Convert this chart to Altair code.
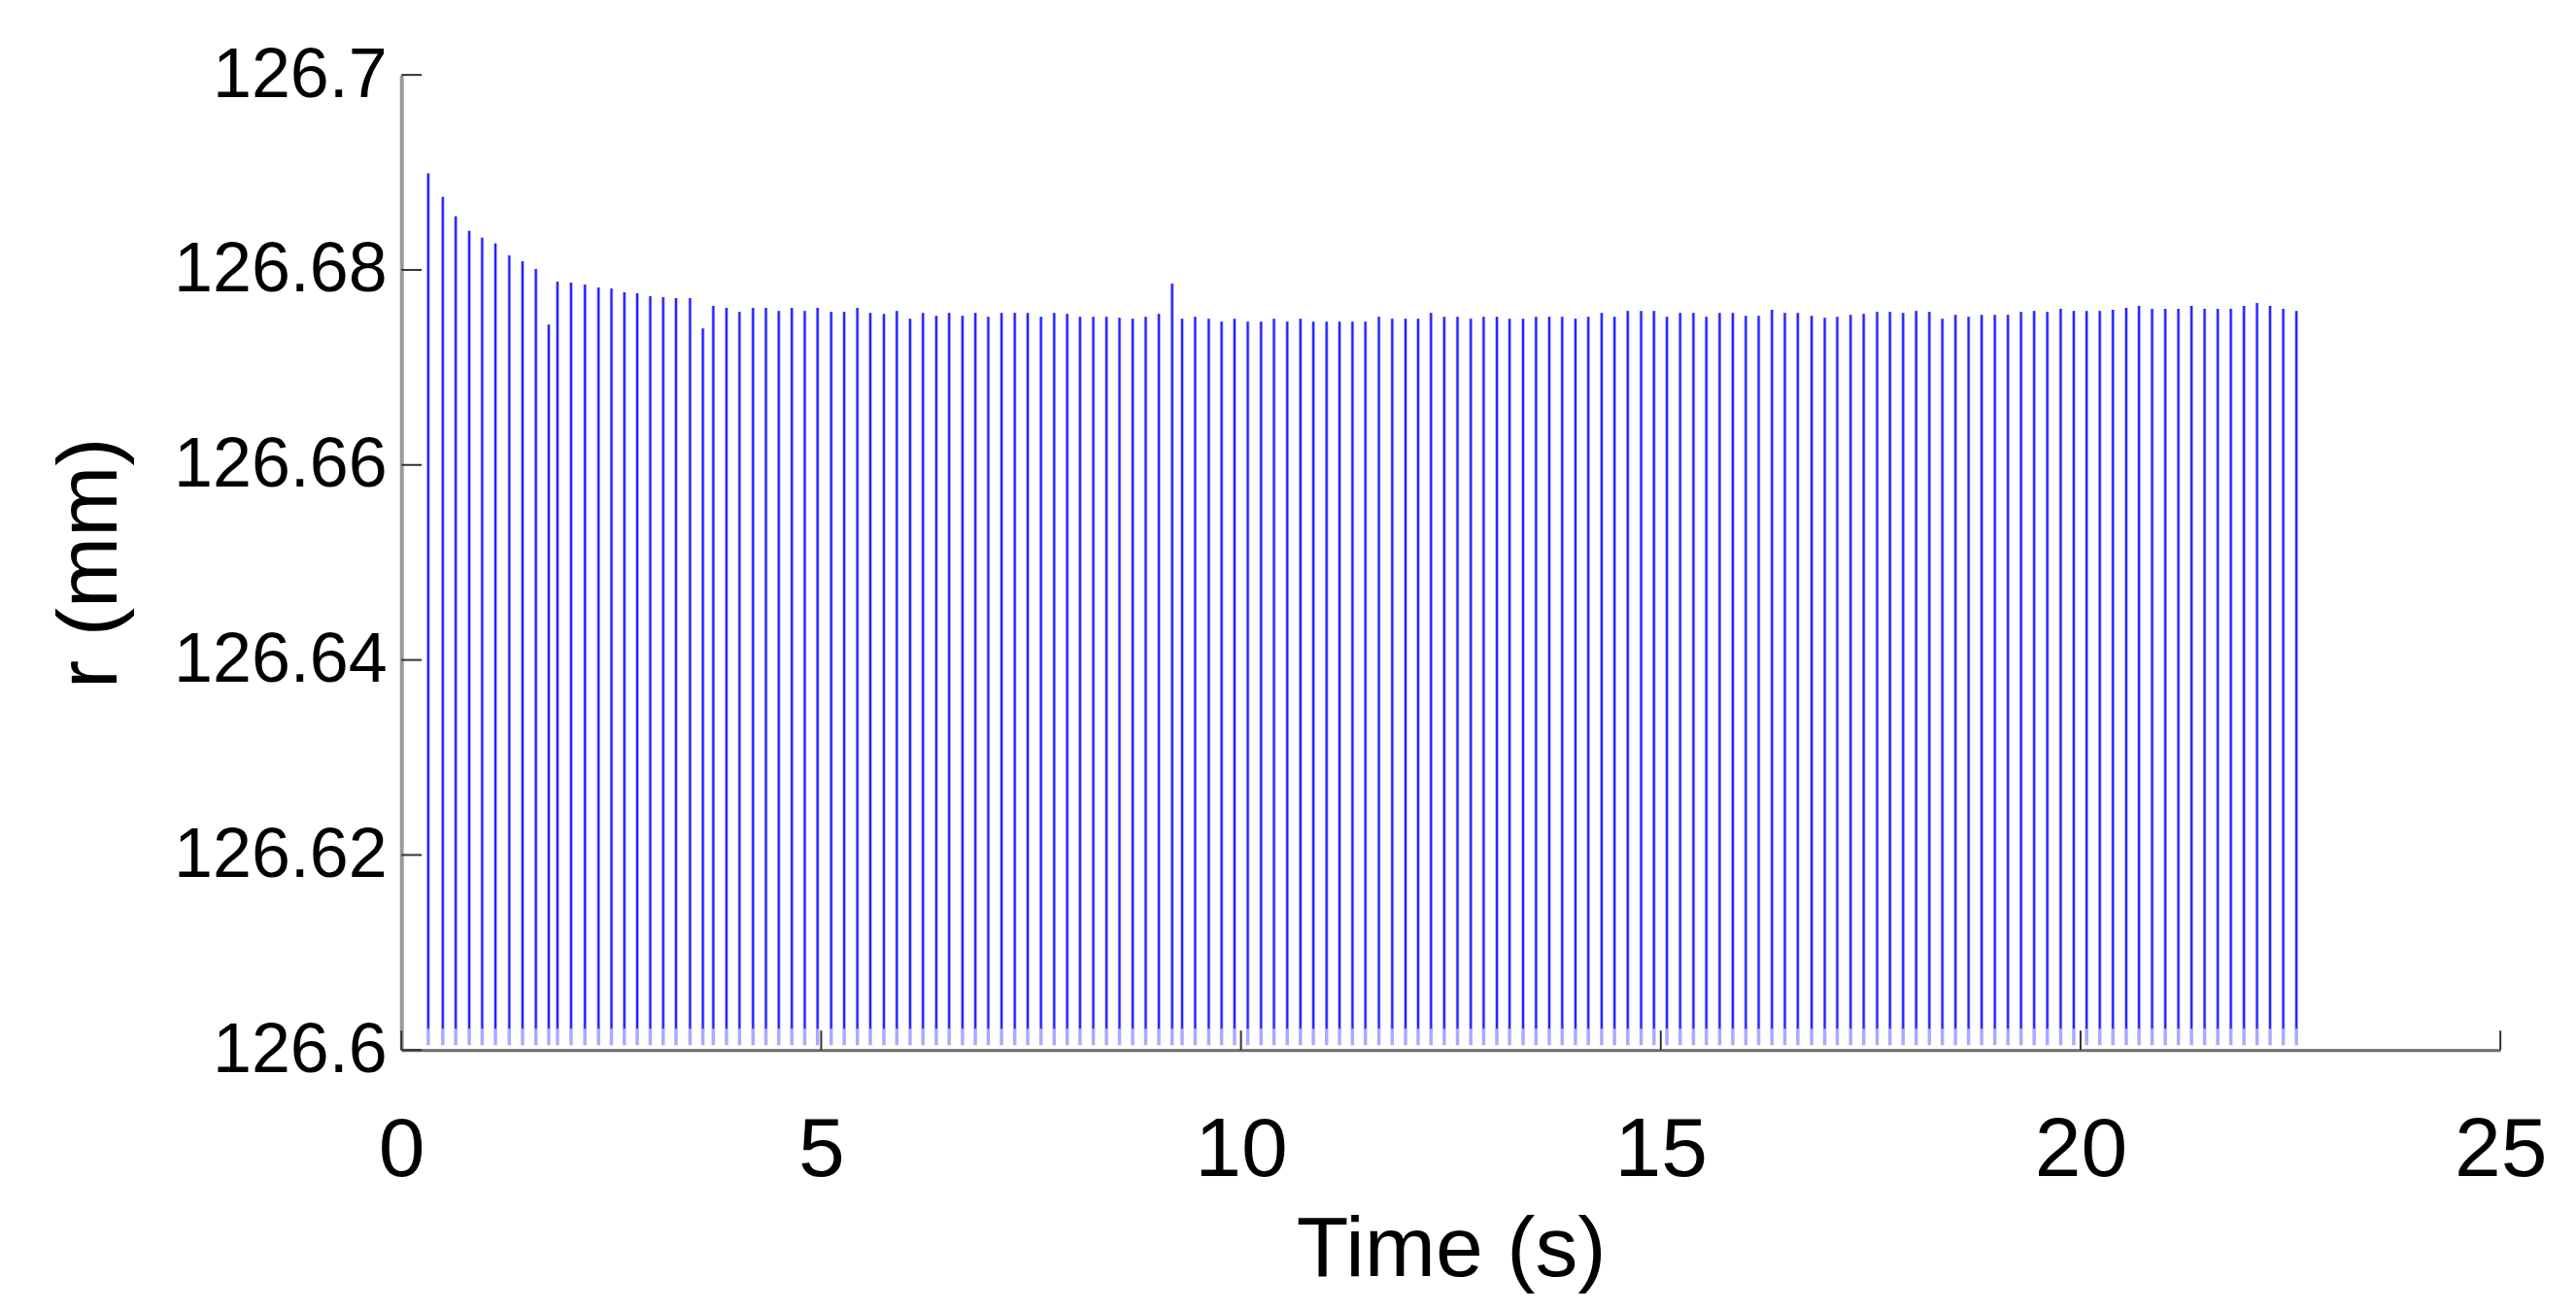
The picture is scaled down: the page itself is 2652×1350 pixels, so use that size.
import altair as alt
import pandas as pd

# spike times (s)
time_s = [
    0.320, 0.493, 0.647, 0.808, 0.962, 1.120, 1.285, 1.443, 1.602, 1.755,
    1.859, 2.021, 2.186, 2.348, 2.502, 2.656, 2.809, 2.964, 3.118, 3.271,
    3.438, 3.591, 3.715, 3.872, 4.027, 4.188, 4.342, 4.495, 4.650, 4.804,
    4.957, 5.119, 5.274,
    5.431, 5.585, 5.747, 5.901, 6.059, 6.212, 6.371, 6.524, 6.683, 6.836,
    6.990, 7.148, 7.306, 7.460, 7.618, 7.775, 7.930, 8.083, 8.241, 8.398,
    8.553, 8.710, 8.865, 9.022, 9.180, 9.299, 9.454, 9.616, 9.769, 9.923,
    10.081, 10.239, 10.393, 10.551, 10.708, 10.862,
    11.020, 11.174, 11.328, 11.482, 11.643, 11.801, 11.960, 12.110, 12.263, 12.421,
    12.579, 12.737, 12.890, 13.048, 13.199, 13.360, 13.514, 13.672, 13.826, 13.984,
    14.137, 14.296, 14.449, 14.607, 14.766, 14.919, 15.073, 15.231, 15.389, 15.543,
    15.701, 15.858, 16.013, 16.166, 16.324, 16.478, 16.632,
    16.797, 16.953, 17.102, 17.261, 17.417, 17.577, 17.730, 17.886, 18.042, 18.199,
    18.354, 18.510, 18.666, 18.822, 18.979, 19.135, 19.291, 19.447, 19.604, 19.763,
    19.919, 20.072, 20.229, 20.385, 20.544, 20.696, 20.852, 21.009, 21.165, 21.321,
    21.477, 21.634, 21.790, 21.946, 22.102, 22.257, 22.414, 22.571,
]

# spike tops r (mm)
r_peak = [
    126.6899, 126.6875, 126.6855, 126.6840, 126.6833, 126.6827, 126.6815, 126.6809, 126.6801, 126.6744,
    126.6788, 126.6787, 126.6785, 126.6782, 126.6781, 126.6777, 126.6776, 126.6773, 126.6772, 126.6771,
    126.6771, 126.6740, 126.6763, 126.6761, 126.6757, 126.6761, 126.6761, 126.6758, 126.6761, 126.6758,
    126.6761, 126.6757, 126.6757,
    126.6761, 126.6756, 126.6755, 126.6758, 126.6750, 126.6756, 126.6753, 126.6756, 126.6753, 126.6756,
    126.6752, 126.6756, 126.6756, 126.6756, 126.6752, 126.6756, 126.6755, 126.6752, 126.6752, 126.6752,
    126.6751, 126.6750, 126.6752, 126.6755, 126.6786, 126.6750, 126.6752, 126.6750, 126.6747, 126.6750,
    126.6747, 126.6747, 126.6750, 126.6747, 126.6750, 126.6747,
    126.6747, 126.6747, 126.6747, 126.6747, 126.6752, 126.6750, 126.6750, 126.6750, 126.6756, 126.6752,
    126.6752, 126.6750, 126.6752, 126.6752, 126.6750, 126.6750, 126.6752, 126.6752, 126.6752, 126.6750,
    126.6752, 126.6756, 126.6752, 126.6758, 126.6758, 126.6758, 126.6752, 126.6756, 126.6756, 126.6752,
    126.6756, 126.6756, 126.6753, 126.6753, 126.6759, 126.6756, 126.6756,
    126.6753, 126.6751, 126.6752, 126.6754, 126.6755, 126.6757, 126.6757, 126.6756, 126.6758, 126.6757,
    126.6750, 126.6754, 126.6752, 126.6754, 126.6754, 126.6754, 126.6757, 126.6758, 126.6757, 126.6760,
    126.6758, 126.6758, 126.6758, 126.6759, 126.6761, 126.6763, 126.6760, 126.6760, 126.6760, 126.6763,
    126.6760, 126.6760, 126.6760, 126.6763, 126.6766, 126.6763, 126.6760, 126.6758,
]

trace_base = 126.6022   # where the strong stroke of each spike ends
trace_floor = 126.6005  # where the faint stroke of each spike ends

x_ticks = [0, 5, 10, 15, 20, 25]
y_ticks = [126.6, 126.62, 126.64, 126.66, 126.68, 126.7]

W, H = 2165, 1006
FONT = "Liberation Sans"

df = pd.DataFrame({"t": time_s, "top": r_peak})
df["base"] = trace_base
df["floor"] = trace_floor
xt = pd.DataFrame({"v": x_ticks})
yt = pd.DataFrame({"v": y_ticks})

xs = alt.Scale(domain=[0, 25], nice=False, zero=False)
ys = alt.Scale(domain=[126.6, 126.7], nice=False, zero=False)

x_axis = alt.Axis(values=x_ticks, format="d", ticks=False, grid=False,
                  domainColor="#6a6a6a", domainWidth=3,
                  labelFont=FONT, labelFontSize=86, labelColor="#000000",
                  labelPadding=62, labelFlush=False, labelLimit=400,
                  titleFont=FONT, titleFontSize=88, titleFontWeight="normal",
                  titleColor="#000000", titlePadding=16)
y_axis = alt.Axis(values=y_ticks, format=".2~f", ticks=False, grid=False,
                  domainColor="#9a9a9a", domainWidth=4,
                  labelFont=FONT, labelFontSize=72, labelColor="#000000",
                  labelPadding=15, labelFlush=False, labelLimit=400,
                  titleFont=FONT, titleFontSize=88, titleFontWeight="normal",
                  titleColor="#000000", titlePadding=76)


def xenc(field):
    return alt.X(field, type="quantitative", scale=xs, axis=x_axis, title="Time (s)")


def yenc(field):
    return alt.Y(field, type="quantitative", scale=ys, axis=y_axis, title="r (mm)")


faint = alt.Chart(df).mark_rule(color="#aaaaff", strokeWidth=3.5).encode(
    x=xenc("t"), y=yenc("floor"), y2="top:Q"
)
core = alt.Chart(df).mark_rule(color="#2222ff", strokeWidth=2).encode(
    x=xenc("t"), y=yenc("base"), y2="top:Q"
)
xtick_rules = alt.Chart(xt).mark_rule(color="#333333", strokeWidth=2).encode(
    x=xenc("v"), y=alt.value(H), y2=alt.value(H - 20)
)
ytick_rules = alt.Chart(yt).mark_rule(color="#333333", strokeWidth=2).encode(
    y=yenc("v"), x=alt.value(0), x2=alt.value(21)
)

chart = alt.layer(faint, core, xtick_rules, ytick_rules).properties(
    width=W, height=H,
    background="white",
    autosize=alt.AutoSizeParams(type="none"),
    padding={"left": 406, "top": 68, "right": 70, "bottom": 262},
).configure_view(strokeWidth=0, strokeOpacity=0)

chart.save("out.html", embed_options={"renderer": "svg", "actions": False})
